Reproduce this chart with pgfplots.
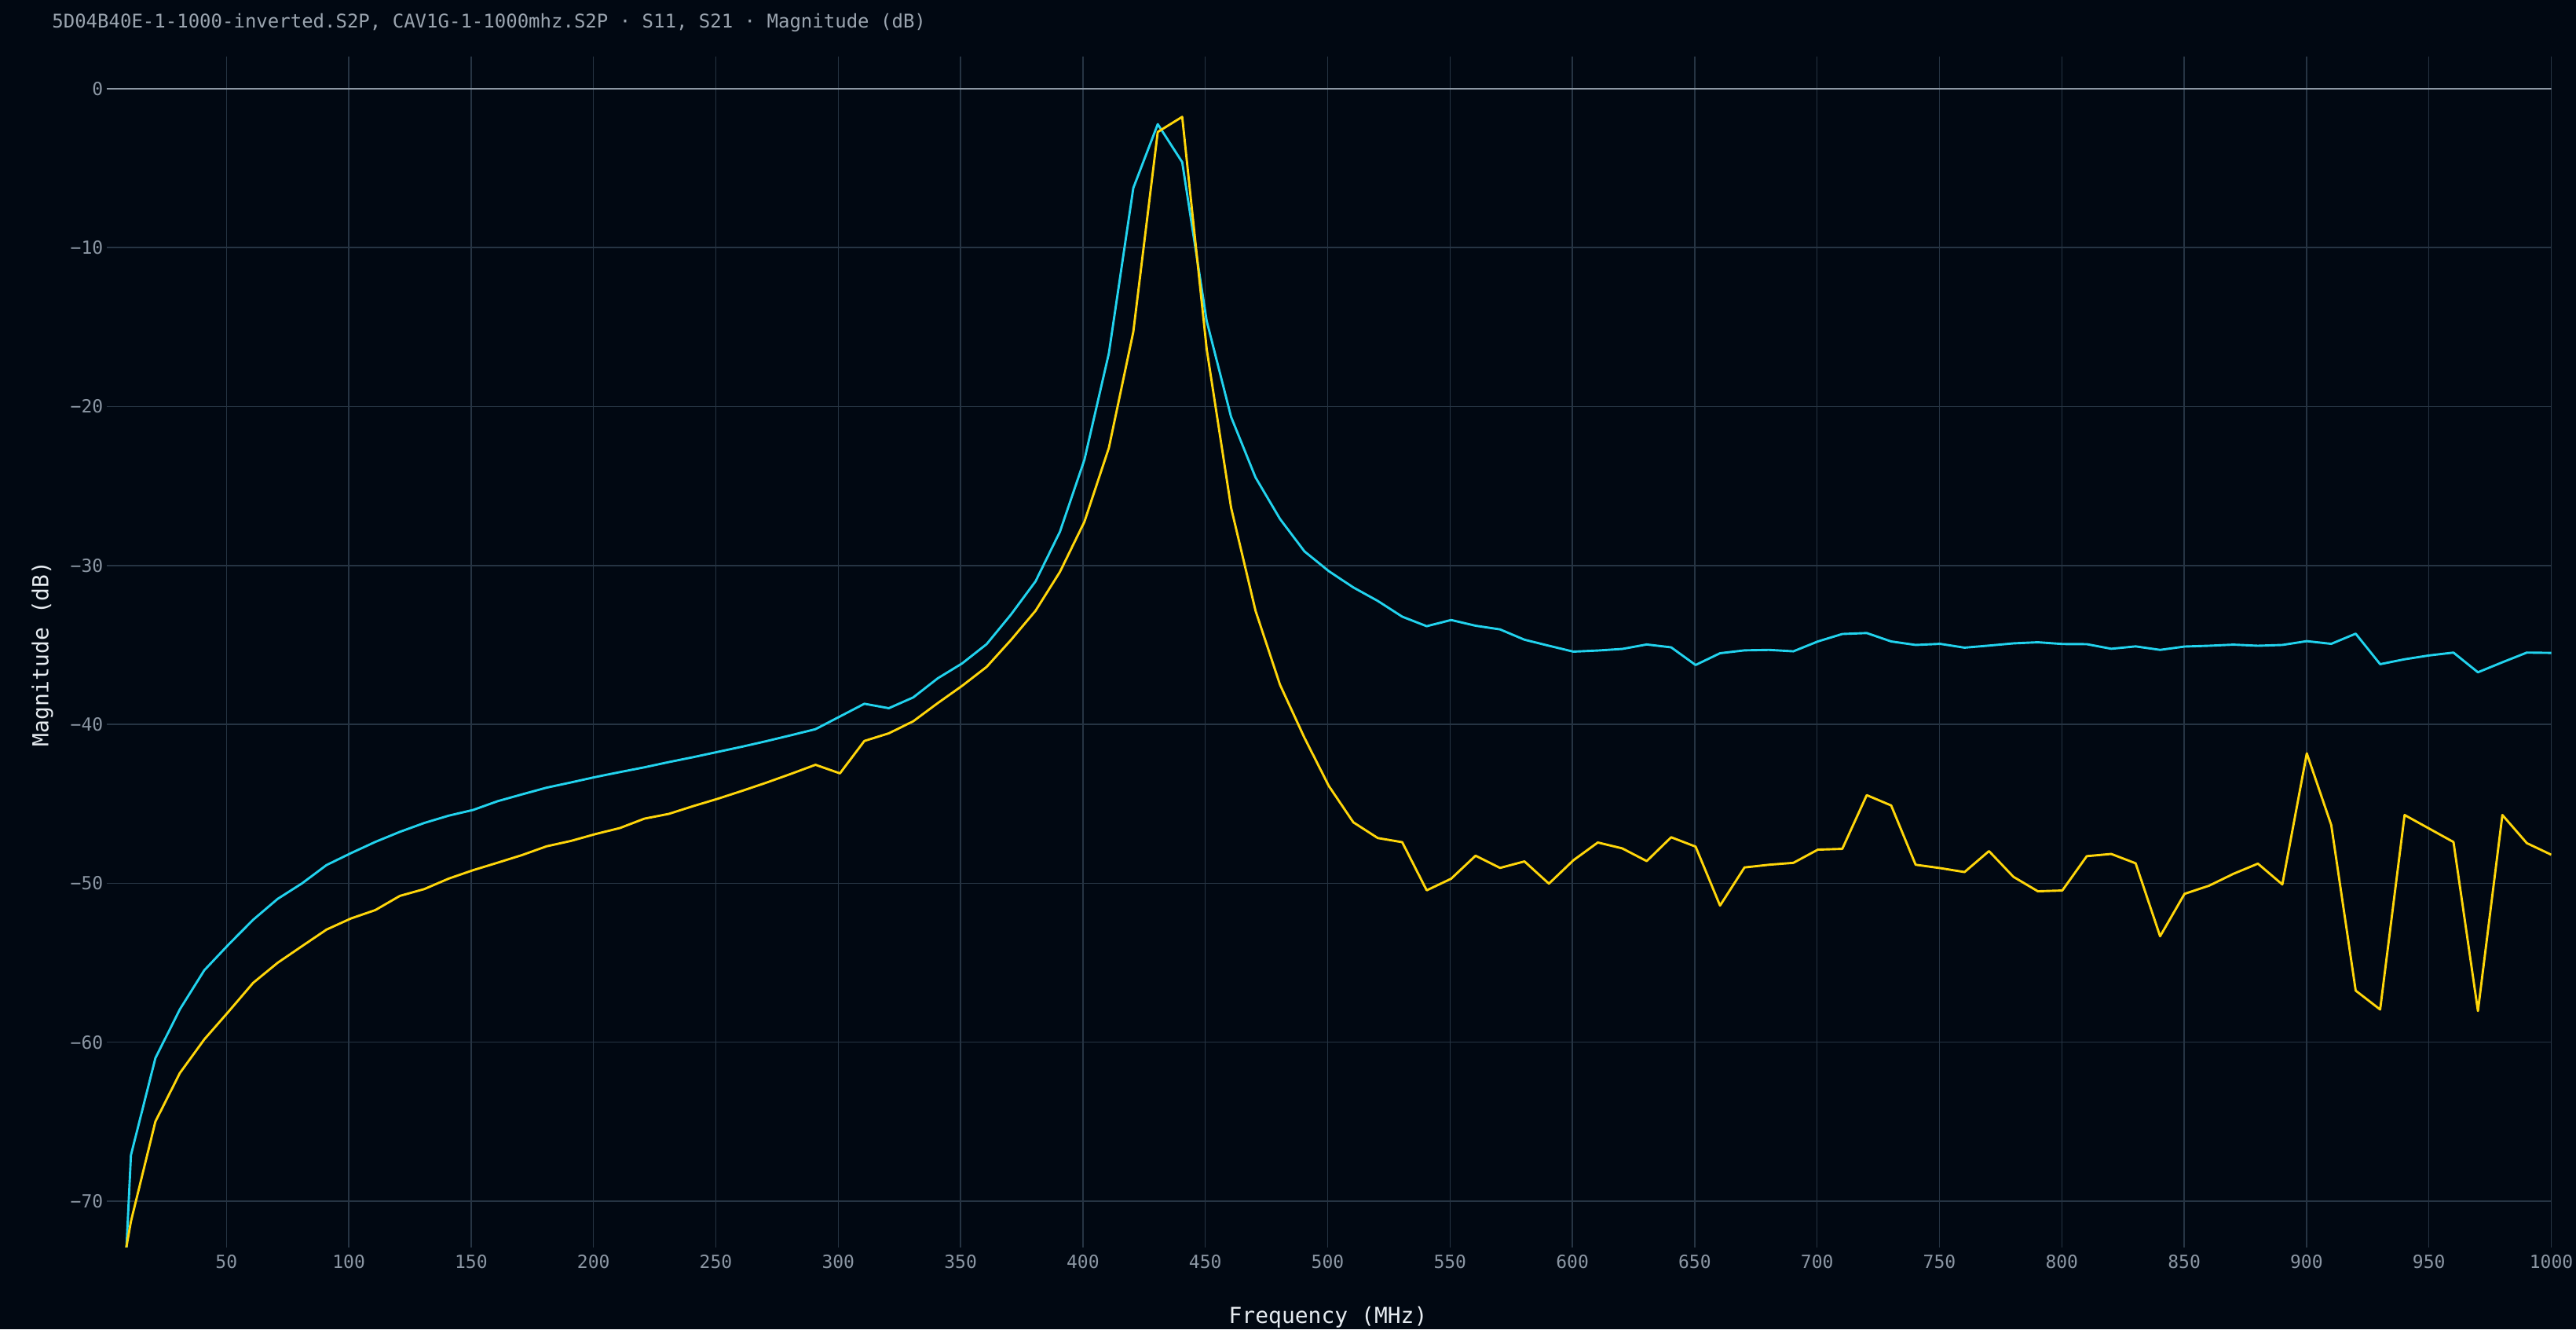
\documentclass[border=0pt]{standalone}
\usepackage{fontspec}
\setmainfont{DejaVu Sans Mono}
\usepackage{pgfplots}
\pgfplotsset{compat=1.18}
\usepackage{pgfplotstable}
\definecolor{bg}{HTML}{010812}
\definecolor{gridc}{HTML}{263443}
\definecolor{zeroc}{HTML}{8C97A3}
\definecolor{tickc}{HTML}{8B96A3}
\definecolor{labc}{HTML}{E6EBF0}
\definecolor{titc}{HTML}{9AA4AF}
\definecolor{cyanl}{HTML}{22D3EE}
\definecolor{yell}{HTML}{FFD60A}

\pgfplotstableread{
f s11 s21
1 -99 -80
10.99 -67.1 -71.27
20.98 -61.0 -64.99
30.97 -57.93 -61.94
40.96 -55.47 -59.82
50.95 -53.84 -58.06
60.94 -52.29 -56.26
70.93 -50.98 -55.0
80.92 -50.0 -53.95
90.91 -48.85 -52.91
100.9 -48.1 -52.21
110.89 -47.39 -51.68
120.88 -46.76 -50.79
130.87 -46.2 -50.36
140.86 -45.74 -49.7
150.85 -45.38 -49.17
160.84 -44.83 -48.7
170.83 -44.4 -48.22
180.82 -43.98 -47.67
190.81 -43.65 -47.33
200.8 -43.31 -46.9
210.79 -43.0 -46.52
220.78 -42.7 -45.93
230.77 -42.37 -45.63
240.76 -42.06 -45.14
250.75 -41.73 -44.68
260.74 -41.4 -44.18
270.73 -41.05 -43.66
280.72 -40.68 -43.11
290.71 -40.3 -42.54
300.7 -39.5 -43.08
310.69 -38.7 -41.04
320.68 -38.98 -40.56
330.67 -38.3 -39.8
340.66 -37.1 -38.66
350.65 -36.16 -37.57
360.64 -34.95 -36.38
370.63 -33.08 -34.68
380.62 -31.0 -32.85
390.61 -27.87 -30.4
400.6 -23.35 -27.25
410.59 -16.65 -22.6
420.58 -6.25 -15.3
430.57 -2.23 -2.72
440.56 -4.62 -1.77
450.55 -14.6 -16.36
460.54 -20.65 -26.36
470.53 -24.46 -32.85
480.52 -27.07 -37.5
490.51 -29.11 -40.84
500.5 -30.36 -43.88
510.49 -31.38 -46.16
520.48 -32.23 -47.15
530.47 -33.22 -47.41
540.46 -33.82 -50.44
550.45 -33.43 -49.71
560.44 -33.79 -48.26
570.43 -34.02 -49.03
580.42 -34.67 -48.62
590.41 -35.05 -50.02
600.4 -35.42 -48.55
610.39 -35.35 -47.43
620.38 -35.25 -47.8
630.37 -34.97 -48.6
640.36 -35.15 -47.1
650.35 -36.26 -47.69
660.34 -35.52 -51.4
670.33 -35.34 -49.0
680.32 -35.31 -48.83
690.31 -35.4 -48.71
700.3 -34.78 -47.88
710.29 -34.31 -47.83
720.28 -34.25 -44.45
730.27 -34.78 -45.1
740.26 -35.0 -48.83
750.25 -34.93 -49.04
760.24 -35.17 -49.29
770.23 -35.04 -47.97
780.22 -34.9 -49.59
790.21 -34.83 -50.5
800.2 -34.94 -50.45
810.19 -34.95 -48.29
820.18 -35.24 -48.15
830.17 -35.09 -48.74
840.16 -35.31 -53.33
850.15 -35.1 -50.66
860.14 -35.05 -50.15
870.13 -34.98 -49.4
880.12 -35.05 -48.76
890.11 -35.0 -50.07
900.1 -34.76 -41.82
910.09 -34.93 -46.33
920.08 -34.29 -56.75
930.07 -36.21 -57.94
940.06 -35.9 -45.7
950.05 -35.66 -46.55
960.04 -35.48 -47.4
970.03 -36.72 -58.03
980.02 -36.09 -45.7
990.01 -35.48 -47.47
1000 -35.5 -48.2
}\data

\begin{document}
\begin{tikzpicture}
\fill[bg] (0,0) rectangle (1640pt,846pt);
\path[use as bounding box] (0,0) rectangle (1640pt,846pt);
\node[anchor=base west, text=titc, inner sep=0pt] at (33pt,828pt) {\fontsize{12}{14}\selectfont 5D04B40E-1-1000-inverted.S2P, CAV1G-1-1000mhz.S2P · S11, S21 · Magnitude (dB)};
\node[anchor=base, text=labc, inner sep=0pt] at (845.5pt,4pt) {\fontsize{14}{16}\selectfont Frequency (MHz)};
\node[anchor=base, rotate=90, text=labc, inner sep=0pt] at (30.85pt,429.75pt) {\fontsize{14}{16}\selectfont Magnitude (dB)};
\begin{axis}[
  at={(67.8pt,52.15pt)}, anchor=south west,
  scale only axis, width=1556.45pt, height=758pt,
  xmin=1, xmax=1000, ymin=-72.9, ymax=2.04,
  axis line style={draw=none},
  xtick={50,100,...,1000},
  ytick={-70,-60,-50,-40,-30,-20,-10,0},
  yticklabels={−70,−60,−50,−40,−30,−20,−10,0},
  grid=major,
  major grid style={color=gridc, line width=0.75pt},
  major tick length=0pt,
  tick label style={font=\fontsize{11.5}{12}\selectfont, text=tickc},
  xticklabel style={inner sep=0pt, anchor=north, yshift=-4.75pt},
  yticklabel style={inner sep=0pt, anchor=east, xshift=-2pt},
  /pgf/number format/assume math mode=true,
  /pgf/number format/1000 sep={},
  clip=true,
]
\draw[zeroc, line width=1.1pt] (axis cs:1,0) -- (axis cs:1000,0);
\addplot[cyanl, line width=1.45pt, line join=round, no markers] table[x=f, y=s11] {\data};
\addplot[yell, line width=1.45pt, line join=round, no markers] table[x=f, y=s21] {\data};
\end{axis}
\end{tikzpicture}
\end{document}
